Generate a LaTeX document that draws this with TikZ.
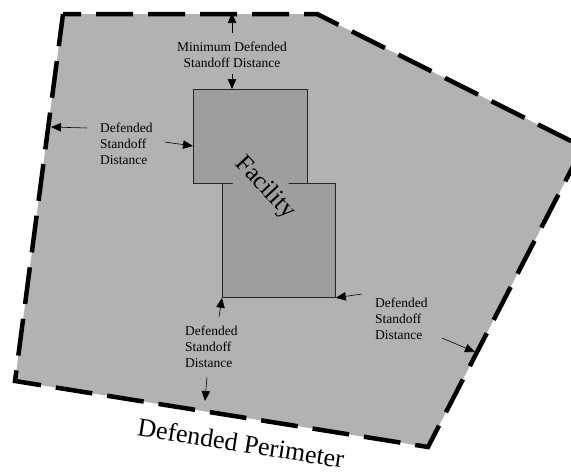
\documentclass[tikz,border=0pt]{standalone}
\usepackage{fontspec}
\setmainfont{Liberation Serif}
\usetikzlibrary{positioning,arrows.meta,calc}
\tikzset{
  dp perimeter/.style={draw=black,line width=4.5pt,fill=black!30,
    dash pattern=on 37pt off 15pt,dash phase=19pt,line join=miter},
  dp facility/.style={draw=black!85,line width=0.8pt,fill=black!38,
    inner sep=0pt,anchor=north west},
  dp arrow/.style={-{Triangle[length=10pt,width=8.5pt]},line width=0.6pt,black},
  dp label/.style={font=\fontsize{13.5}{16}\selectfont,align=left,
    inner sep=0pt,anchor=west},
  dp title/.style={font=\fontsize{26}{30}\selectfont,inner sep=0pt}
}

\begin{document}
\begin{tikzpicture}[x=1pt,y=-1pt]
  \useasboundingbox (0,0) rectangle (571,475);
  \clip (0,0) rectangle (571,475);

  % Defended perimeter.
  \coordinate (p-tl) at (63,14);
  \coordinate (p-tr) at (317,14);
  \coordinate (p-r) at (583,147);
  \coordinate (p-br) at (428,447);
  \coordinate (p-bl) at (15,381);
  \draw[dp perimeter] (p-tl) -- (p-tr) -- (p-r) -- (p-br) -- (p-bl) -- cycle;
  \node[dp title,rotate=-9] (perim-lbl) at (241,443) {Defended Perimeter};

  % Facility.
  \node[dp facility,minimum width=114pt,minimum height=94pt]
    (fac-top) at (193,89) {};
  \node[dp facility,minimum width=113pt,minimum height=114pt]
    (fac-bot) at (222,183) {};
  \node[fill=black!38,rotate=-47,inner xsep=1pt,inner ysep=9pt,
    font=\fontsize{25}{28}\selectfont] (fac-lbl) at (265,188) {Facility};

  % Standoff labels.
  \node[dp label,align=center,anchor=center] (min-lbl) at (232,55)
    {Minimum Defended\\Standoff Distance};
  \node[dp label] (left-lbl) at (100,144) {Defended\\Standoff\\Distance};
  \node[dp label] (bot-lbl) at (185,347) {Defended\\Standoff\\Distance};
  \node[dp label] (right-lbl) at (375,319) {Defended\\Standoff\\Distance};

  % Arrow ends.
  \coordinate (min-out) at (232,13);
  \coordinate (min-in) at (232,89);
  \coordinate (left-out) at (51,127);
  \coordinate (left-in) at (193,146);
  \coordinate (bot-out) at (205,401);
  \coordinate (right-out) at (475,352);

  \draw[dp arrow] ([yshift=9pt]min-lbl.north) -- (min-out);
  \draw[dp arrow] ([yshift=-6pt]min-lbl.south) -- (min-in);
  \draw[dp arrow] ([xshift=-13pt,yshift=-5pt]left-lbl.north west) -- (left-out);
  \draw[dp arrow] ([xshift=12pt,yshift=2pt]left-lbl.east) -- (left-in);
  \draw[dp arrow] ([xshift=34pt,yshift=9pt]bot-lbl.north west) -- (fac-bot.south west);
  \draw[dp arrow] ([xshift=22pt,yshift=-9pt]bot-lbl.south west) -- (bot-out);
  \draw[dp arrow] ([xshift=-13pt,yshift=4pt]right-lbl.north west) -- (fac-bot.south east);
  \draw[dp arrow] ([xshift=67pt,yshift=2pt]right-lbl.south west) -- (right-out);
\end{tikzpicture}
\end{document}
